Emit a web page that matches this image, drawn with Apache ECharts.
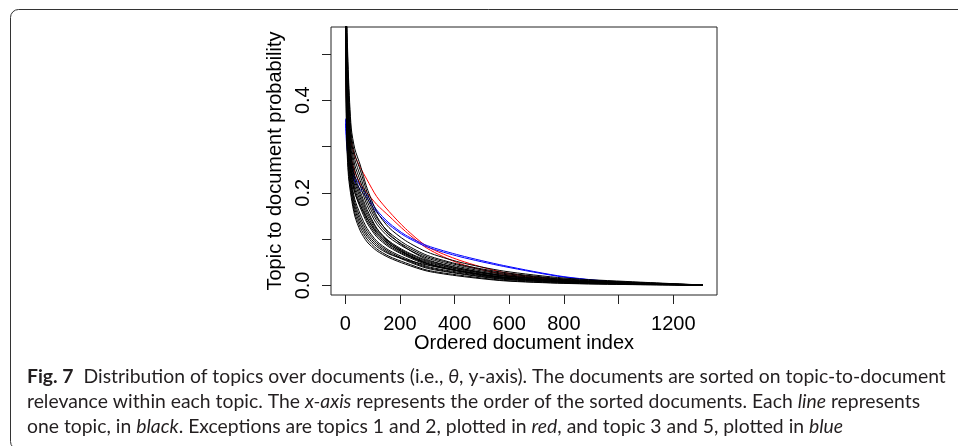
<!DOCTYPE html>
<html lang="en">
<head>
  <meta charset="UTF-8">
  <title>Topic to document probability</title>
  <style>
    html, body {
      height: 100%;
      width: 100%;
      margin: 0;
      padding: 0;
      background: #fff;
    }
  </style>
  <script src="https://cdn.jsdelivr.net/npm/echarts@6/dist/echarts.min.js"></script>
</head>
<body>
<div id="main" style="width: 958px; height: 446px;"></div>

<script>
  // ordered document index where each topic curve is sampled
  var docIndex = [1, 5, 12, 22, 35, 55, 80, 115, 160, 220, 300, 420, 580, 800, 1050, 1308];

  // topics 1 and 2 (red)
  var topic01 = [0.50, 0.43, 0.36, 0.31, 0.28, 0.255, 0.228, 0.192, 0.16, 0.123, 0.084, 0.054, 0.028, 0.012, 0.004, 0.001];
  var topic02 = [0.47, 0.39, 0.32, 0.275, 0.245, 0.22, 0.2, 0.175, 0.15, 0.117, 0.08, 0.047, 0.024, 0.011, 0.004, 0.001];
  // topics 3 and 5 (blue)
  var topic03 = [0.36, 0.32, 0.285, 0.258, 0.235, 0.215, 0.195, 0.163, 0.135, 0.109, 0.086, 0.065, 0.043, 0.019, 0.005, 0.001];
  var topic05 = [0.35, 0.305, 0.27, 0.245, 0.225, 0.207, 0.188, 0.158, 0.131, 0.106, 0.083, 0.062, 0.041, 0.018, 0.0045, 0.001];
  // the rest (black)
  var topic04 = [0.78, 0.46, 0.343, 0.265, 0.223, 0.189, 0.152, 0.118, 0.093, 0.072, 0.052, 0.035, 0.021, 0.0103, 0.0049, 0.0008];
  var topic06 = [0.60, 0.32, 0.235, 0.19, 0.15, 0.118, 0.094, 0.075, 0.060, 0.046, 0.031, 0.020, 0.010, 0.0045, 0.0018, 0.0005];
  var topic07 = [0.62, 0.334, 0.246, 0.198, 0.157, 0.125, 0.100, 0.079, 0.063, 0.049, 0.033, 0.022, 0.011, 0.005, 0.0021, 0.0005];
  var topic08 = [0.64, 0.348, 0.257, 0.205, 0.165, 0.132, 0.106, 0.084, 0.068, 0.056, 0.044, 0.031, 0.018, 0.0091, 0.0043, 0.0007];
  var topic09 = [0.65, 0.362, 0.267, 0.213, 0.172, 0.139, 0.111, 0.088, 0.070, 0.054, 0.037, 0.025, 0.013, 0.0062, 0.0027, 0.0006];
  var topic10 = [0.67, 0.376, 0.278, 0.220, 0.179, 0.146, 0.117, 0.092, 0.073, 0.056, 0.039, 0.026, 0.014, 0.0068, 0.003, 0.0006];
  var topic11 = [0.69, 0.39, 0.289, 0.228, 0.186, 0.154, 0.123, 0.096, 0.076, 0.059, 0.041, 0.028, 0.015, 0.0074, 0.0034, 0.0006];
  var topic12 = [0.70, 0.404, 0.30, 0.235, 0.20, 0.172, 0.145, 0.115, 0.090, 0.068, 0.047, 0.030, 0.016, 0.008, 0.0037, 0.0007];
  var topic13 = [0.72, 0.418, 0.31, 0.243, 0.201, 0.168, 0.135, 0.105, 0.083, 0.064, 0.045, 0.031, 0.017, 0.0085, 0.004, 0.0007];
  var topic14 = [0.74, 0.432, 0.321, 0.25, 0.208, 0.175, 0.140, 0.109, 0.086, 0.066, 0.047, 0.032, 0.018, 0.0091, 0.0043, 0.0007];
  var topic15 = [0.76, 0.446, 0.332, 0.258, 0.215, 0.182, 0.146, 0.113, 0.089, 0.069, 0.050, 0.034, 0.020, 0.0097, 0.0046, 0.0007];
  var topic16 = [0.79, 0.474, 0.353, 0.273, 0.230, 0.196, 0.158, 0.122, 0.096, 0.074, 0.054, 0.037, 0.022, 0.0108, 0.0052, 0.0008];
  var topic17 = [0.81, 0.488, 0.364, 0.28, 0.237, 0.203, 0.164, 0.124, 0.094, 0.070, 0.048, 0.031, 0.017, 0.0085, 0.004, 0.0007];
  var topic18 = [0.84, 0.51, 0.381, 0.292, 0.249, 0.215, 0.173, 0.133, 0.104, 0.081, 0.059, 0.040, 0.024, 0.0123, 0.006, 0.0008];
  var topic19 = [0.87, 0.533, 0.398, 0.304, 0.26, 0.226, 0.182, 0.140, 0.109, 0.085, 0.062, 0.043, 0.026, 0.0132, 0.0065, 0.0009];
  var topic20 = [0.89, 0.555, 0.416, 0.316, 0.272, 0.237, 0.191, 0.146, 0.115, 0.089, 0.065, 0.045, 0.028, 0.0142, 0.007, 0.0009];
  var topic21 = [0.92, 0.578, 0.433, 0.328, 0.283, 0.249, 0.201, 0.150, 0.112, 0.082, 0.056, 0.037, 0.021, 0.0105, 0.005, 0.0008];
  var topic22 = [0.95, 0.6, 0.45, 0.34, 0.295, 0.26, 0.21, 0.16, 0.125, 0.097, 0.072, 0.05, 0.031, 0.016, 0.008, 0.001];

  // plotting order = topic order
  var topicList = [topic01, topic02, topic03, topic04, topic05, topic06, topic07, topic08, topic09, topic10, topic11,
    topic12, topic13, topic14, topic15, topic16, topic17, topic18, topic19, topic20, topic21, topic22];
  var topicColors = ['#ff0000', '#ff0000', '#0000ff', '#000000', '#0000ff'];

  var xTicks = [0, 200, 400, 600, 800, 1000, 1200];
  var xLabels = [0, 200, 400, 600, 800, 1200];
  var yTicks = [0, 0.1, 0.2, 0.3, 0.4, 0.5];
  var yLabels = [0, 0.2, 0.4];

  var chartDom = document.getElementById('main');
  var myChart = echarts.init(chartDom, null, { renderer: 'canvas' });

  var series = topicList.map(function (vals, k) {
    return {
      name: 'Topic ' + (k + 1),
      type: 'line',
      data: docIndex.map(function (x, i) { return [x, vals[i]]; }),
      showSymbol: false,
      smooth: 0.25,
      clip: true,
      silent: true,
      lineStyle: {
        width: 1,
        color: topicColors[k] || '#000000'
      }
    };
  });

  var capFont = 'Lato';
  var capSize = 19.35;
  var capRich = {
    b: { fontFamily: capFont, fontSize: capSize, fontWeight: 'bold', fill: '#231f20' },
    i: { fontFamily: capFont, fontSize: capSize, fontStyle: 'italic', fill: '#231f20' }
  };

  function captionLine(txt, y) {
    return {
      type: 'text',
      left: 27,
      top: y,
      style: {
        text: txt,
        fontFamily: capFont,
        fontSize: capSize,
        fill: '#231f20',
        rich: capRich
      }
    };
  }

  var option = {
    animation: false,
    grid: {
      left: 331,
      right: 241,
      top: 27,
      bottom: 151,
      show: true,
      borderColor: '#222',
      borderWidth: 1
    },
    xAxis: {
      type: 'value',
      min: -52,
      max: 1360,
      name: 'Ordered document index',
      nameLocation: 'middle',
      nameGap: 38,
      nameMoveOverlap: false,
      nameTextStyle: { fontFamily: 'Liberation Sans', fontSize: 20, color: '#000' },
      axisLine: { show: false, onZero: false },
      splitLine: { show: false },
      axisTick: { show: true, inside: false, length: 9, customValues: xTicks, lineStyle: { color: '#222' } },
      axisLabel: {
        customValues: xLabels,
        margin: 19,
        fontFamily: 'Liberation Sans',
        fontSize: 20,
        color: '#000',
        formatter: function (v) { return String(v); }
      }
    },
    yAxis: {
      type: 'value',
      min: -0.0206,
      max: 0.558,
      name: 'Topic to document probability',
      nameLocation: 'middle',
      nameRotate: 90,
      nameGap: 46,
      nameMoveOverlap: false,
      nameTextStyle: { fontFamily: 'Liberation Sans', fontSize: 20, color: '#000' },
      axisLine: { show: false, onZero: false },
      splitLine: { show: false },
      axisTick: { show: true, inside: false, length: 9, customValues: yTicks, lineStyle: { color: '#222' } },
      axisLabel: {
        customValues: yLabels,
        rotate: 90,
        margin: 18,
        fontFamily: 'Liberation Sans',
        fontSize: 20,
        color: '#000',
        formatter: function (v) { return v.toFixed(1); }
      }
    },
    graphic: [
      {
        type: 'rect',
        shape: { x: 10.5, y: 9.5, width: 960, height: 440, r: 8 },
        style: { fill: 'none', stroke: '#333', lineWidth: 1 },
        silent: true
      },
      captionLine('{b|Fig. 7}  Distribution of topics over documents (i.e., {i|θ}, y-axis). The documents are sorted on topic-to-document', 367),
      captionLine('relevance within each topic. The {i|x-axis} represents the order of the sorted documents. Each {i|line} represents', 392),
      captionLine('one topic, in {i|black}. Exceptions are topics 1 and 2, plotted in {i|red}, and topic 3 and 5, plotted in {i|blue}', 417)
    ],
    series: series
  };

  myChart.setOption(option);
</script>
</body>
</html>
